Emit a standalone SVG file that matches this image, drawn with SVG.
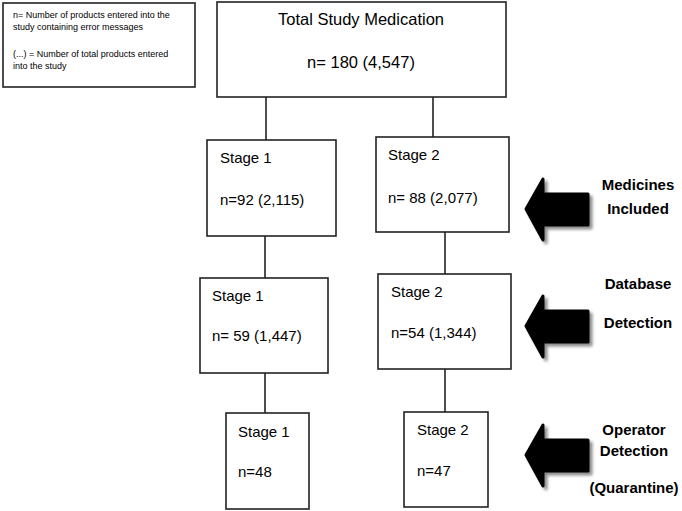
<svg xmlns="http://www.w3.org/2000/svg" width="682" height="511" viewBox="0 0 682 511">
<style>
.box{fill:#fff;stroke:#222;stroke-width:1.6}
.t{font-family:"Liberation Sans",Arial,sans-serif;font-size:15px;fill:#000}
.big{font-size:16.5px}
.leg{font-family:"Liberation Sans",Arial,sans-serif;font-size:9px;fill:#000}
.lab{font-family:"Liberation Sans",Arial,sans-serif;font-size:15px;font-weight:bold;fill:#000;text-anchor:middle}
.con{stroke:#222;stroke-width:1.6;fill:none}
.arr{fill:#000;stroke:#000;stroke-width:3;stroke-linejoin:round}
</style>
<defs>
<filter id="sh" x="-20%" y="-20%" width="150%" height="150%">
<feGaussianBlur in="SourceAlpha" stdDeviation="1.5"/>
<feOffset dx="3" dy="3" result="b"/>
<feComponentTransfer><feFuncA type="linear" slope="0.45"/></feComponentTransfer>
<feMerge><feMergeNode/><feMergeNode in="SourceGraphic"/></feMerge>
</filter>
<path id="arrow" d="M0,0 L17,-30 L17,-15 L62,-15 L62,16 L17,16 L17,31 Z"/>
</defs>
<rect width="682" height="511" fill="#fff"/>

<g id="legend">
<rect class="box" x="3" y="3" width="192" height="84"/>
<text class="leg" x="13" y="18">n= Number of products entered into the</text>
<text class="leg" x="13" y="30">study containing error messages</text>
<text class="leg" x="13" y="57">(...) = Number of total products entered</text>
<text class="leg" x="13" y="69">into the study</text>
</g>

<g id="connectors">
<line class="con" x1="266" y1="97" x2="266" y2="140"/>
<line class="con" x1="433" y1="97" x2="433" y2="137"/>
<line class="con" x1="265" y1="236" x2="265" y2="278"/>
<line class="con" x1="445" y1="232" x2="445" y2="274"/>
<line class="con" x1="265" y1="373" x2="265" y2="413"/>
<line class="con" x1="445" y1="369" x2="445" y2="412"/>
</g>

<g id="total">
<rect class="box" x="217" y="2" width="289" height="95"/>
<text class="t big" x="361" y="25" text-anchor="middle">Total Study Medication</text>
<text class="t big" x="361" y="68" text-anchor="middle">n= 180 (4,547)</text>
</g>

<g id="s1a">
<rect class="box" x="207" y="140" width="129" height="96"/>
<text class="t" x="220" y="163">Stage 1</text>
<text class="t" x="220" y="205">n=92 (2,115)</text>
</g>
<g id="s2a">
<rect class="box" x="376" y="137" width="133" height="95"/>
<text class="t" x="388" y="160">Stage 2</text>
<text class="t" x="388" y="203">n= 88 (2,077)</text>
</g>

<g id="s1b">
<rect class="box" x="200" y="278" width="128" height="95"/>
<text class="t" x="212" y="301">Stage 1</text>
<text class="t" x="212" y="341">n= 59 (1,447)</text>
</g>
<g id="s2b">
<rect class="box" x="378" y="274" width="133" height="95"/>
<text class="t" x="391" y="297">Stage 2</text>
<text class="t" x="391" y="338">n=54 (1,344)</text>
</g>

<g id="s1c">
<rect class="box" x="226" y="413" width="83" height="96"/>
<text class="t" x="238" y="437">Stage 1</text>
<text class="t" x="238" y="477">n=48</text>
</g>
<g id="s2c">
<rect class="box" x="404" y="412" width="84" height="95"/>
<text class="t" x="417" y="435">Stage 2</text>
<text class="t" x="417" y="476">n=47</text>
</g>

<g id="arrow1" filter="url(#sh)">
<use href="#arrow" class="arr" transform="translate(526,209)"/>
</g>
<g id="label1">
<text class="lab" x="638" y="190">Medicines</text>
<text class="lab" x="638" y="214">Included</text>
</g>

<g id="arrow2" filter="url(#sh)">
<use href="#arrow" class="arr" transform="translate(526,326)"/>
</g>
<g id="label2">
<text class="lab" x="638" y="289">Database</text>
<text class="lab" x="638" y="328">Detection</text>
</g>

<g id="arrow3" filter="url(#sh)">
<use href="#arrow" class="arr" transform="translate(526,455)"/>
</g>
<g id="label3">
<text class="lab" x="634" y="435">Operator</text>
<text class="lab" x="634" y="456">Detection</text>
<text class="lab" x="634" y="493">(Quarantine)</text>
</g>
</svg>
